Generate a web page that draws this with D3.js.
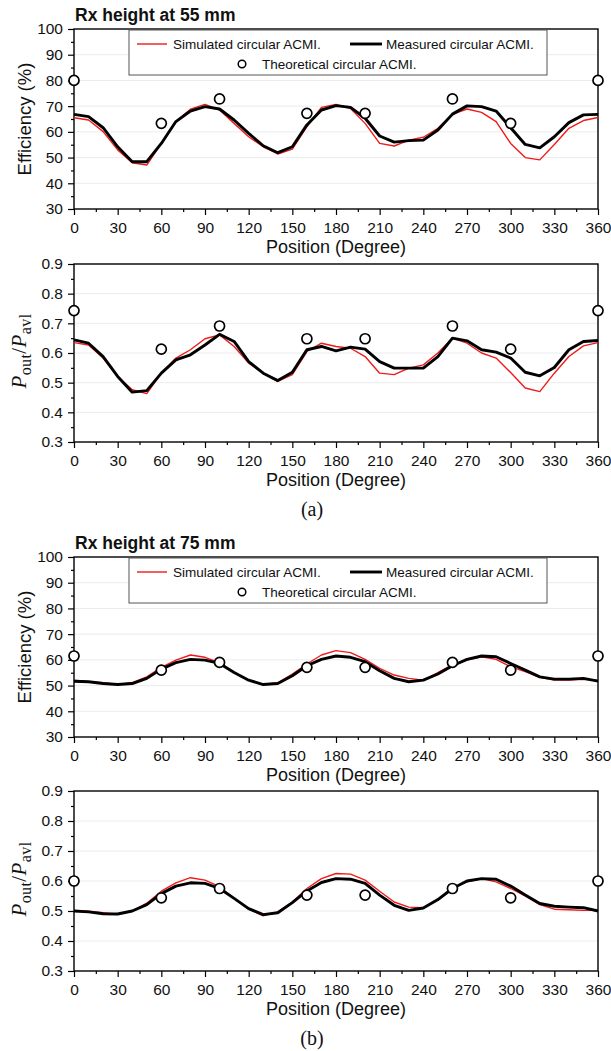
<!DOCTYPE html>
<html>
<head>
<meta charset="utf-8">
<script src="https://cdn.jsdelivr.net/npm/d3@7"></script>
<style>
  html, body { margin: 0; padding: 0; background: #fff; }
  svg { display: block; }
  .tick text { font-family: Arial, "Liberation Sans", sans-serif; }
</style>
</head>
<body>
<svg id="chart" width="611" height="1051"></svg>
<script>
// Positions (degrees) for the simulated / measured curves
const positions = [0, 10, 20, 30, 40, 50, 60, 70, 80, 90, 100, 110, 120, 130, 140, 150, 160, 170, 180,
    190, 200, 210, 220, 230, 240, 250, 260, 270, 280, 290, 300, 310, 320, 330, 340, 350, 360];
const theoryPositions = [0, 60, 100, 160, 200, 260, 300, 360];

const xTicks = [0, 30, 60, 90, 120, 150, 180, 210, 240, 270, 300, 330, 360];
const xMinorTicks = [15, 45, 75, 105, 135, 165, 195, 225, 255, 285, 315, 345];
const effTicks = [30, 40, 50, 60, 70, 80, 90, 100];
const effMinorTicks = [35, 45, 55, 65, 75, 85, 95];
const ratioTicks = [0.3, 0.4, 0.5, 0.6, 0.7, 0.8, 0.9];
const ratioMinorTicks = [0.35, 0.45, 0.55, 0.65, 0.75, 0.85];

const legendLabels = ['Simulated circular ACMI.', 'Measured circular ACMI.', 'Theoretical circular ACMI.'];

// Rx height at 55 mm
const sim55Eff = [65.5, 64.6, 60.1, 53.0, 48.0, 47.1, 55.5, 64.0, 68.8, 70.7, 68.5, 63.3, 58.1, 54.2, 51.4, 53.3, 62.0, 69.5, 70.7,
    69.1, 63.3, 55.5, 54.5, 56.8, 57.9, 61.4, 66.8, 68.9, 67.6, 64.0, 55.5, 50.0, 49.1, 55.1, 61.4, 64.4, 65.6];
const meas55Eff = [66.8, 65.9, 61.6, 54.2, 48.4, 48.4, 55.5, 64.0, 68.1, 69.8, 68.9, 64.6, 59.4, 54.6, 51.9, 54.2, 62.7, 68.5, 70.2,
    69.5, 65.3, 58.4, 56.0, 56.6, 56.8, 60.7, 66.9, 70.1, 69.8, 68.1, 61.6, 55.1, 53.8, 58.1, 63.6, 66.6, 66.8];
const theo55Eff = [80, 63.3, 72.8, 67.2, 67.2, 72.8, 63.3, 80];

const sim55Ratio = [0.635, 0.627, 0.583, 0.521, 0.476, 0.463, 0.532, 0.583, 0.611, 0.648, 0.661, 0.622, 0.566, 0.532, 0.504, 0.527, 0.605, 0.633, 0.622,
    0.616, 0.588, 0.532, 0.527, 0.549, 0.560, 0.600, 0.650, 0.633, 0.600, 0.583, 0.534, 0.482, 0.470, 0.532, 0.588, 0.624, 0.635];
const meas55Ratio = [0.644, 0.633, 0.588, 0.521, 0.468, 0.473, 0.532, 0.577, 0.594, 0.627, 0.663, 0.639, 0.571, 0.532, 0.507, 0.535, 0.611, 0.622, 0.607,
    0.620, 0.613, 0.571, 0.549, 0.549, 0.549, 0.588, 0.650, 0.641, 0.611, 0.603, 0.583, 0.535, 0.523, 0.551, 0.611, 0.639, 0.642];
const theo55Ratio = [0.743, 0.613, 0.691, 0.648, 0.648, 0.691, 0.613, 0.743];

// Rx height at 75 mm
const sim75Eff = [52.1, 51.5, 51.1, 50.4, 51.1, 53.4, 57.1, 59.9, 61.9, 61.0, 58.9, 55.0, 52.1, 50.4, 51.1, 54.5, 58.4, 61.9, 63.6,
    62.8, 60.2, 56.7, 54.1, 52.8, 52.1, 55.0, 58.2, 59.9, 61.2, 60.2, 57.3, 55.4, 53.2, 52.1, 52.1, 52.4, 52.1];
const meas75Eff = [51.7, 51.5, 50.8, 50.4, 50.8, 52.8, 56.4, 58.9, 60.2, 59.9, 58.6, 55.1, 52.1, 50.4, 50.8, 53.8, 57.7, 60.2, 61.5,
    61.0, 59.3, 55.8, 52.8, 51.5, 52.1, 54.5, 57.7, 60.2, 61.5, 61.2, 58.6, 56.0, 53.4, 52.5, 52.5, 52.8, 51.7];
const theo75Eff = [61.5, 56.0, 59.0, 57.1, 57.1, 59.0, 56.0, 61.5];

const sim75Ratio = [0.502, 0.499, 0.494, 0.489, 0.500, 0.526, 0.566, 0.594, 0.611, 0.603, 0.581, 0.542, 0.506, 0.484, 0.497, 0.530, 0.575, 0.608, 0.625,
    0.623, 0.603, 0.566, 0.530, 0.513, 0.511, 0.536, 0.577, 0.597, 0.608, 0.597, 0.575, 0.550, 0.521, 0.506, 0.504, 0.502, 0.502];
const meas75Ratio = [0.500, 0.497, 0.491, 0.490, 0.500, 0.521, 0.558, 0.583, 0.594, 0.592, 0.575, 0.542, 0.508, 0.488, 0.494, 0.528, 0.567, 0.595, 0.608,
    0.606, 0.592, 0.553, 0.519, 0.502, 0.510, 0.538, 0.575, 0.600, 0.608, 0.606, 0.583, 0.553, 0.525, 0.516, 0.513, 0.511, 0.500];
const theo75Ratio = [0.600, 0.544, 0.575, 0.553, 0.553, 0.575, 0.544, 0.600];

const svg = d3.select('#chart');
const SANS = 'Arial, "Liberation Sans", sans-serif';
const SERIF = '"Times New Roman", "Liberation Serif", serif';
const RED = '#f01a1a';

const x = d3.scaleLinear().domain([0, 360]).range([74, 598]);

const panels = [
    { top: 29, bottom: 209, domain: [30, 100], ticks: effTicks, minor: effMinorTicks, fmt: d3.format('d'),
      sim: sim55Eff, meas: meas55Eff, theo: theo55Eff, kind: 'eff', title: 'Rx height at 55 mm' },
    { top: 264, bottom: 442, domain: [0.3, 0.9], ticks: ratioTicks, minor: ratioMinorTicks, fmt: d3.format('.1f'),
      sim: sim55Ratio, meas: meas55Ratio, theo: theo55Ratio, kind: 'ratio', caption: '(a)' },
    { top: 557, bottom: 737, domain: [30, 100], ticks: effTicks, minor: effMinorTicks, fmt: d3.format('d'),
      sim: sim75Eff, meas: meas75Eff, theo: theo75Eff, kind: 'eff', title: 'Rx height at 75 mm' },
    { top: 791, bottom: 971, domain: [0.3, 0.9], ticks: ratioTicks, minor: ratioMinorTicks, fmt: d3.format('.1f'),
      sim: sim75Ratio, meas: meas75Ratio, theo: theo75Ratio, kind: 'ratio', caption: '(b)' }
];

const drawPanel = (p) => {
    const y = d3.scaleLinear().domain(p.domain).range([p.bottom, p.top]);
    const g = svg.append('g');
    const x0 = x.range()[0], x1 = x.range()[1];

    // faint grid
    g.append('g').selectAll('line')
        .data(p.ticks.slice(1, -1))
        .join('line')
        .attr('x1', x0).attr('x2', x1)
        .attr('y1', d => y(d)).attr('y2', d => y(d))
        .attr('stroke', '#ececec')
        .attr('stroke-width', 1);

    // axes
    const styleAxis = sel => {
        sel.select('.domain').remove();
        sel.selectAll('.tick line').attr('stroke', '#000').attr('stroke-width', 1.2);
        sel.selectAll('.tick text').attr('fill', '#111').style('font-size', '15.5px');
    };
    g.append('g').attr('transform', `translate(${x0},0)`)
        .call(d3.axisLeft(y).tickValues(p.ticks).tickFormat(p.fmt).tickSize(6).tickPadding(5))
        .call(styleAxis);
    g.append('g').attr('transform', `translate(${x0},0)`)
        .call(d3.axisLeft(y).tickValues(p.minor).tickFormat('').tickSize(3))
        .call(styleAxis);
    g.append('g').attr('transform', `translate(0,${p.bottom})`)
        .call(d3.axisBottom(x).tickValues(xTicks).tickSize(6).tickPadding(7))
        .call(styleAxis);
    g.append('g').attr('transform', `translate(0,${p.bottom})`)
        .call(d3.axisBottom(x).tickValues(xMinorTicks).tickFormat('').tickSize(3))
        .call(styleAxis);

    // frame
    g.append('rect')
        .attr('x', x0).attr('y', p.top)
        .attr('width', x1 - x0).attr('height', p.bottom - p.top)
        .attr('fill', 'none').attr('stroke', '#000').attr('stroke-width', 1.4);

    // lines
    const line = d3.line().x((d, i) => x(positions[i])).y(d => y(d));
    g.append('path').datum(p.sim)
        .attr('d', line).attr('fill', 'none')
        .attr('stroke', RED).attr('stroke-width', 1.4).attr('stroke-linejoin', 'round');
    g.append('path').datum(p.meas)
        .attr('d', line).attr('fill', 'none')
        .attr('stroke', '#000').attr('stroke-width', 2.9).attr('stroke-linejoin', 'round');

    // theoretical circles
    g.append('g').selectAll('circle')
        .data(p.theo)
        .join('circle')
        .attr('cx', (d, i) => x(theoryPositions[i]))
        .attr('cy', d => y(d))
        .attr('r', 5)
        .attr('fill', '#fff').attr('stroke', '#000').attr('stroke-width', 1.7);

    // x label
    g.append('text')
        .attr('x', (x0 + x1) / 2).attr('y', p.bottom + 44)
        .attr('text-anchor', 'middle')
        .style('font-family', SANS).style('font-size', '18px').attr('fill', '#111')
        .text('Position (Degree)');

    const cy = (p.top + p.bottom) / 2;
    if (p.kind === 'eff') {
        g.append('text')
            .attr('transform', `translate(31,${cy}) rotate(-90)`)
            .attr('text-anchor', 'middle')
            .style('font-family', SANS).style('font-size', '18.5px').attr('fill', '#111')
            .text('Efficiency (%)');
    } else {
        const t = g.append('text')
            .attr('transform', `translate(26,${cy - 2}) rotate(-90)`)
            .attr('text-anchor', 'middle')
            .style('font-family', SERIF).style('font-size', '21px')
            .style('letter-spacing', '0.4px').attr('fill', '#111');
        t.append('tspan').style('font-style', 'italic').text('P');
        t.append('tspan').style('font-size', '16px').attr('dy', 5).text('out');
        t.append('tspan').attr('dy', -5).text('/');
        t.append('tspan').style('font-style', 'italic').text('P');
        t.append('tspan').style('font-size', '16px').attr('dy', 5).text('avl');
    }

    if (p.title) {
        g.append('text')
            .attr('x', 75).attr('y', p.top - 8)
            .style('font-family', SANS).style('font-size', '17.5px').style('font-weight', 'bold').attr('fill', '#111')
            .text(p.title);

        // legend
        const lg = g.append('g').attr('transform', `translate(0,${p.top})`);
        lg.append('rect')
            .attr('x', 129).attr('y', 1).attr('width', 418).attr('height', 45)
            .attr('fill', '#fff').attr('stroke', '#555').attr('stroke-width', 1);
        lg.append('line').attr('x1', 137).attr('x2', 167).attr('y1', 15).attr('y2', 15)
            .attr('stroke', RED).attr('stroke-width', 1.4);
        lg.append('line').attr('x1', 350).attr('x2', 382).attr('y1', 15).attr('y2', 15)
            .attr('stroke', '#000').attr('stroke-width', 2.9);
        lg.append('circle').attr('cx', 242).attr('cy', 35).attr('r', 3.8)
            .attr('fill', '#fff').attr('stroke', '#000').attr('stroke-width', 1.5);
        const items = [[173, 15], [386, 15], [262, 35]];
        lg.selectAll('text.leg')
            .data(legendLabels)
            .join('text')
            .attr('class', 'leg')
            .attr('x', (d, i) => items[i][0]).attr('y', (d, i) => items[i][1] + 5)
            .style('font-family', SANS).style('font-size', '13.5px').attr('fill', '#111')
            .text(d => d);
    }

    if (p.caption) {
        g.append('text')
            .attr('x', 312).attr('y', p.bottom + 74)
            .attr('text-anchor', 'middle')
            .style('font-family', SERIF).style('font-size', '20px').attr('fill', '#111')
            .text(p.caption);
    }
};

panels.forEach(drawPanel);
</script>
</body>
</html>
